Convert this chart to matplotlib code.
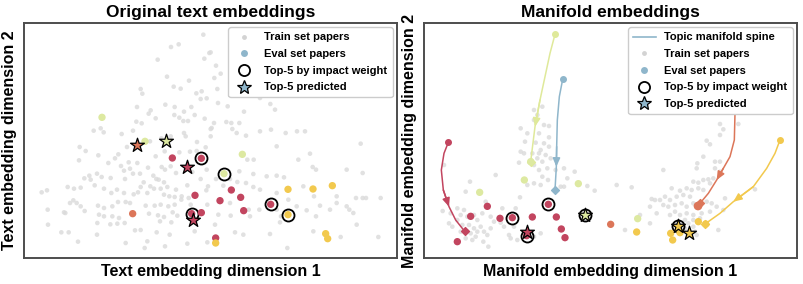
import matplotlib
matplotlib.use("Agg")
from matplotlib import pyplot as plt
from matplotlib.lines import Line2D

# colours for the topic groups
topic_colors = {"crimson": "#c2455f", "orange": "#dc7659", "green": "#dde9a1",
                "yellow": "#f2c94e", "blue": "#8fb6cb"}

# ---------------- left panel: original text embeddings ----------------
left_train = [
    (538, 35), (441, 72), (464, 64), (556, 90), (541, 107), (401, 110), (429, 161), (495, 173),
    (449, 191), (470, 197), (350, 198), (355, 212), (517, 211), (533, 205), (530, 228), (548, 226),
    (424, 245), (452, 252), (502, 252), (339, 252), (380, 262), (374, 272), (480, 266), (512, 276),
    (395, 286), (451, 276), (466, 284), (478, 294), (492, 294), (337, 296), (353, 301), (542, 287),
    (563, 315), (209, 323), (230, 316), (239, 328), (293, 333), (327, 323), (480, 330), (485, 340),
    (440, 340), (412, 346), (378, 355), (519, 357), (545, 373), (167, 372), (185, 384), (309, 372),
    (283, 394), (395, 400), (422, 385), (498, 386), (466, 388), (518, 384), (165, 412), (223, 397),
    (253, 420), (273, 406), (314, 418), (340, 420), (372, 434), (291, 429), (318, 437), (413, 432),
    (423, 440), (440, 430), (456, 450), (548, 440), (505, 447), (219, 452), (196, 458), (181, 466),
    (200, 470), (212, 487), (233, 462), (260, 465), (300, 443), (303, 468), (327, 452), (348, 452),
    (388, 458), (404, 470), (420, 478), (397, 468), (359, 478), (379, 490), (350, 492), (430, 492),
    (456, 500), (490, 487), (530, 468), (552, 490), (547, 502), (131, 492), (150, 497), (53, 508),
    (69, 502), (170, 494), (240, 497), (262, 510), (279, 500), (300, 510), (329, 514), (342, 508),
    (370, 510), (390, 497), (410, 497), (420, 515), (436, 520), (452, 522), (473, 520), (494, 525),
    (138, 540), (158, 540), (148, 532), (170, 550), (124, 570), (71, 560), (182, 564), (222, 548),
    (240, 555), (265, 550), (282, 537), (305, 537), (318, 540), (365, 548), (392, 548), (410, 545),
    (433, 550), (452, 545), (472, 530), (500, 545), (550, 545), (120, 568), (225, 575), (240, 580),
    (265, 580), (285, 585), (220, 600), (259, 604), (280, 602), (302, 600), (375, 572), (402, 577),
    (420, 582), (446, 568), (460, 578), (408, 595), (442, 598), (72, 605), (112, 628), (134, 628),
    (219, 635), (333, 622), (350, 621), (398, 628), (437, 635), (512, 625), (162, 656), (305, 660),
    (370, 655), (362, 675), (423, 670), (490, 662), (550, 658),
    (560, 88), (576, 128), (590, 152), (571, 165), (580, 198), (582, 240), (611, 250), (660, 266),
    (708, 225), (739, 243), (753, 260), (570, 300), (607, 297), (622, 300), (646, 300), (625, 318),
    (560, 318), (560, 340), (638, 330), (666, 338), (708, 325), (741, 320), (785, 330), (819, 325),
    (843, 325), (758, 370), (823, 410), (858, 392), (1010, 362), (689, 410), (670, 410), (866, 432),
    (876, 440), (968, 440), (1016, 450), (646, 445), (688, 453), (728, 460), (758, 458), (780, 463),
    (640, 477), (666, 480), (688, 492), (708, 500), (598, 488), (576, 468), (618, 468), (758, 510),
    (793, 530), (870, 520), (838, 490), (938, 520), (996, 525), (1016, 525), (1026, 525), (1070, 525),
    (618, 540), (583, 575), (620, 578), (674, 560), (678, 580), (706, 560), (758, 560), (818, 550),
    (848, 562), (888, 548), (918, 560), (938, 540), (968, 550), (976, 560), (988, 570), (876, 580),
    (573, 605), (633, 628), (658, 635), (738, 633), (768, 598), (771, 580), (868, 625), (998, 605),
    (950, 642), (1063, 642), (790, 675),
]
left_x = [234, 363, 426, 339, 445, 532, 489, 513, 503, 507, 532, 326, 575, 575,
          655, 600, 622, 650, 588, 659, 740, 792, 867, 925, 792, 905, 911]
left_y = [283, 355, 354, 366, 405, 406, 432, 517, 572, 590, 569, 572, 645, 660,
          394, 452, 501, 523, 533, 563, 544, 499, 498, 488, 575, 632, 647]
left_topic = ["green", "green", "green", "orange", "crimson", "crimson", "crimson", "crimson",
              "crimson", "crimson", "crimson", "orange", "crimson", "yellow",
              "green", "green", "crimson", "crimson", "crimson", "crimson", "crimson",
              "yellow", "yellow", "yellow", "yellow", "yellow", "yellow"]
left_ring = [0, 0, 0, 0, 0, 1, 0, 0, 1, 0, 0, 0, 0, 0, 0, 1, 0, 0, 0, 0, 1, 0, 0, 0, 1, 0, 0]
left_star = [0, 0, 1, 1, 0, 0, 1, 0, 0, 1, 0, 0, 0, 0, 0, 0, 0, 0, 0, 0, 0, 0, 0, 0, 0, 0, 0]

# ---------------- right panel: manifold embeddings ----------------
right_train = [
    (330, 261), (355, 251), (340, 276), (330, 291), (360, 306), (375, 309), (290, 316), (310, 331),
    (345, 331), (375, 343), (360, 361), (375, 371), (303, 356), (335, 359), (350, 381), (300, 391),
    (325, 391), (345, 391), (365, 396), (290, 386), (340, 406), (355, 416), (285, 419), (330, 426),
    (345, 441), (370, 436), (380, 406), (355, 461), (395, 441), (372, 471), (330, 481), (310, 486),
    (350, 486), (420, 436), (430, 466), (452, 446), (410, 491), (420, 491), (490, 489), (512, 503),
    (288, 523), (215, 456), (138, 476), (125, 506), (60, 426), (56, 564), (80, 571), (100, 556),
    (110, 576), (120, 561), (130, 581), (150, 576), (160, 591), (175, 571), (185, 536), (200, 581),
    (210, 596), (230, 599), (255, 636), (235, 556), (275, 556), (100, 591), (115, 606), (135, 606),
    (150, 616), (160, 626), (140, 631), (170, 611), (180, 626), (130, 626), (155, 641), (190, 636),
    (200, 616), (110, 626), (125, 646), (145, 651), (178, 656), (193, 671), (240, 611), (260, 646),
    (280, 651), (330, 641), (350, 631), (75, 601), (85, 611), (270, 611),
    (888, 303), (943, 303), (898, 319), (888, 336), (848, 353), (858, 364), (838, 401), (873, 416),
    (888, 416), (873, 436), (820, 421), (818, 436), (718, 441), (868, 466), (888, 446), (808, 476),
    (823, 479), (838, 471), (853, 469), (858, 481), (788, 496), (803, 501), (823, 496), (838, 501),
    (768, 503), (743, 496), (723, 521), (738, 531), (758, 521), (778, 516), (798, 521), (683, 528),
    (693, 531), (708, 531), (718, 546), (678, 551), (733, 551), (753, 546), (773, 541), (788, 551),
    (808, 541), (848, 536), (863, 541), (878, 551), (903, 526), (898, 561), (858, 566), (833, 571),
    (808, 576), (788, 571), (768, 576), (753, 566), (738, 576), (783, 591), (808, 591), (828, 586),
    (793, 601), (783, 616), (773, 626), (808, 611), (818, 636), (698, 571), (678, 601), (648, 576),
    (603, 621), (578, 486), (623, 493), (993, 499), (883, 621), (813, 626),
]
right_x = [100, 140, 190, 228, 265, 308, 308, 325, 373, 397, 412, 423,
           167, 301, 320, 463, 483, 641, 560, 822,
           638, 763, 795, 740, 746, 768, 823, 845]
right_y = [656, 580, 550, 586, 584, 638, 628, 582, 544, 582, 618, 644,
           508, 471, 416, 482, 577, 587, 604, 549,
           627, 608, 631, 631, 651, 629, 596, 603]
right_topic = ["crimson"] * 12 + ["green"] * 6 + ["orange"] * 2 + ["yellow"] * 8
right_ring = [0, 0, 0, 0, 1, 1, 0, 0, 1, 0, 0, 0,
              0, 0, 0, 0, 1, 0, 0, 0,
              0, 1, 0, 0, 0, 0, 0, 0]
right_star = [0, 0, 0, 0, 0, 0, 1, 0, 0, 0, 0, 0,
              0, 0, 0, 0, 1, 0, 0, 0,
              0, 1, 1, 0, 0, 0, 0, 0]
right_size = [1] * 19 + [1.4] + [1] * 8

# topic manifold spines (start -> end)
spine_topics = ["crimson", "green", "blue", "orange", "yellow"]
spine_x = [[73, 60, 52, 58, 75, 95, 122],
           [393, 378, 363, 348, 333, 320],
           [416, 406, 400, 398, 397, 393],
           [935, 934, 933, 931, 918, 898, 878, 853, 828],
           [1068, 1053, 1028, 988, 928, 888, 843]]
spine_y = [[358, 391, 441, 501, 551, 591, 625],
           [34, 91, 161, 231, 311, 416],
           [169, 221, 291, 371, 431, 501],
           [200, 240, 271, 351, 401, 436, 471, 511, 541],
           [351, 391, 436, 491, 536, 571, 603]]
spine_arrow_seg = [3, 3, 3, 5, 3]
spine_line_colors = {"crimson": "#c2455f", "green": "#dfe99a", "blue": "#8fb6cb",
                     "orange": "#dc7659", "yellow": "#f2c94e"}

plt.rcParams["font.family"] = ["Liberation Sans", "DejaVu Sans"]
plt.rcParams["font.weight"] = "bold"

fig = plt.figure(figsize=(8.04, 2.84), dpi=100)
ax1 = fig.add_axes([24 / 804, 1 - 258 / 284, 373 / 804, 235 / 284])
ax2 = fig.add_axes([424 / 804, 1 - 258 / 284, 373 / 804, 235 / 284])


def draw_points(ax, xs, ys, topics, rings, stars, sizes=None):
    for i in range(len(xs)):
        c = topic_colors[topics[i]]
        k = sizes[i] if sizes else 1
        if rings[i]:
            ax.scatter(xs[i], ys[i], s=75, facecolor="white", edgecolor="black", lw=1.3, zorder=4)
        if stars[i]:
            ax.scatter(xs[i], ys[i], s=110, marker="*", facecolor=c, edgecolor="black", lw=0.9, zorder=6)
        else:
            ax.scatter(xs[i], ys[i], s=28 * k, facecolor=c, edgecolor="none", zorder=5)


def style_axes(ax, title, xlabel, ylabel):
    ax.set_xlim(0, 1119)
    ax.set_ylim(705, 0)
    ax.set_xticks([])
    ax.set_yticks([])
    for s in ax.spines.values():
        s.set_color("#4d4d4d")
        s.set_linewidth(1.4)
    ax.set_title(title, fontsize=12.5, fontweight="bold", pad=4)
    ax.set_xlabel(xlabel, fontsize=11.5, fontweight="bold", labelpad=4)
    ax.set_ylabel(ylabel, fontsize=11.5, fontweight="bold", labelpad=5)


# left panel
ax1.scatter([p[0] for p in left_train], [p[1] for p in left_train], s=11, color="#dadada",
            alpha=0.8, edgecolor="none", zorder=1)
draw_points(ax1, left_x, left_y, left_topic, left_ring, left_star)
style_axes(ax1, "Original text embeddings", "Text embedding dimension 1", "Text embedding dimension 2")

# right panel
ax2.scatter([p[0] for p in right_train], [p[1] for p in right_train], s=11, color="#dadada",
            alpha=0.8, edgecolor="none", zorder=1)
for t, xs, ys, k in zip(spine_topics, spine_x, spine_y, spine_arrow_seg):
    lc = spine_line_colors[t]
    ax2.plot(xs, ys, color=lc, lw=1.1, zorder=2)
    ax2.scatter(xs[0], ys[0], s=16, color=lc, zorder=3)
    ax2.scatter(xs[-1], ys[-1], s=16, marker="D", color=lc, zorder=3)
    ax2.annotate("", xy=(xs[k + 1], ys[k + 1]), xytext=(xs[k], ys[k]),
                 arrowprops=dict(arrowstyle="-|>,head_length=0.5,head_width=0.22", color=lc,
                                 lw=1.1, shrinkA=0, shrinkB=0), zorder=3)
draw_points(ax2, right_x, right_y, right_topic, right_ring, right_star, right_size)
style_axes(ax2, "Manifold embeddings", "Manifold embedding dimension 1", "Manifold embedding dimension 2")

# legends
h_train = Line2D([], [], ls="none", marker="o", ms=3.5, color="#d3d3d3", mec="none")
h_eval = Line2D([], [], ls="none", marker="o", ms=5, color=topic_colors["blue"], mec="none")
h_ring = Line2D([], [], ls="none", marker="o", ms=8, mfc="none", mec="black", mew=1.3)
h_star = Line2D([], [], ls="none", marker="*", ms=10, mfc=topic_colors["blue"], mec="black", mew=0.9)
h_spine = Line2D([], [], color=topic_colors["blue"], lw=1.2)
labels = ["Train set papers", "Eval set papers", "Top-5 by impact weight", "Top-5 predicted"]
leg_kw = dict(loc="upper right", prop={"weight": "bold", "size": 8}, framealpha=1,
              borderaxespad=0.4, labelspacing=0.6, handletextpad=0.8, borderpad=0.45)
ax1.legend([h_train, h_eval, h_ring, h_star], labels, **leg_kw)
ax2.legend([h_spine, h_train, h_eval, h_ring, h_star], ["Topic manifold spine"] + labels, **leg_kw)

fig.savefig("out.png", dpi=100)
